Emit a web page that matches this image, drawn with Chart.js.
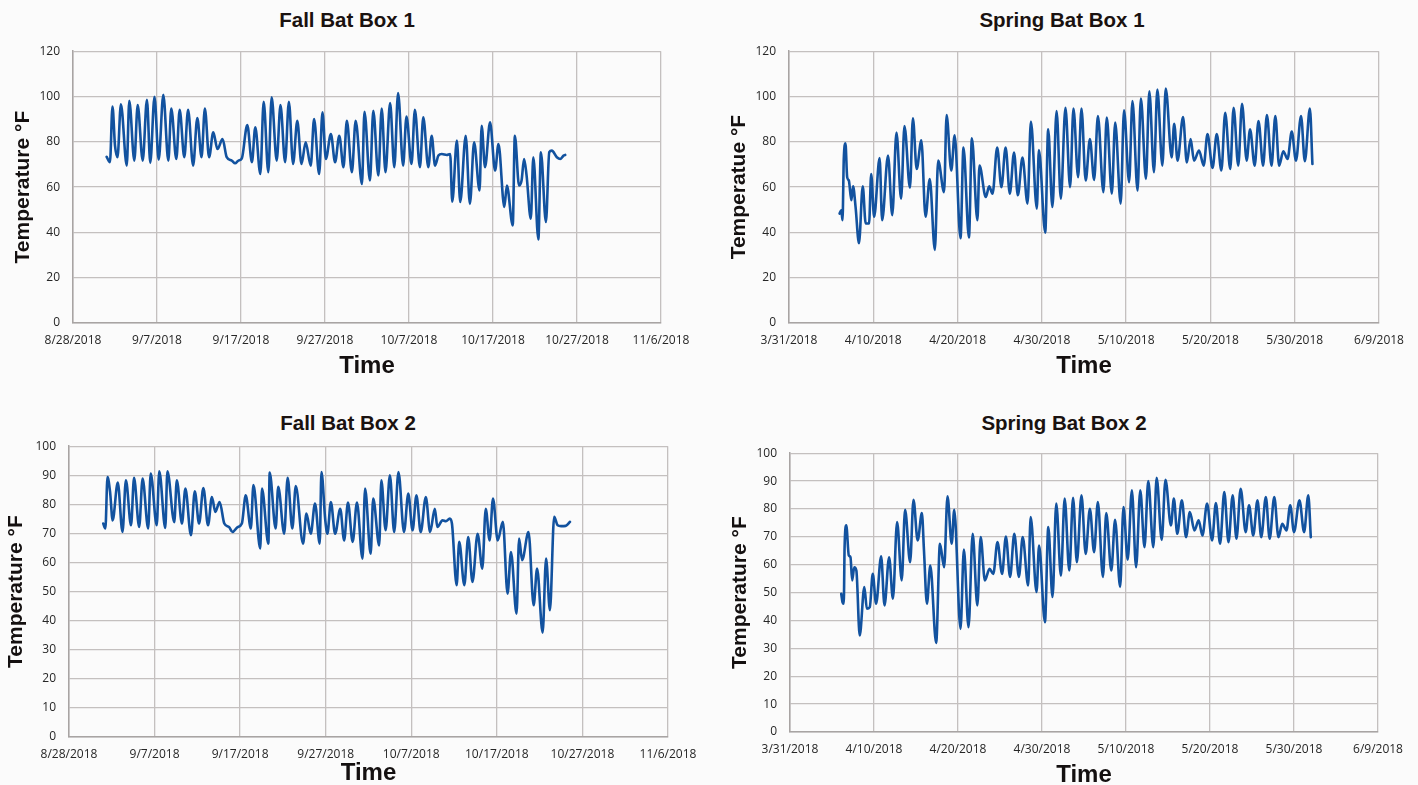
<!DOCTYPE html>
<html>
<head>
<meta charset="utf-8">
<script src="https://cdn.jsdelivr.net/npm/chart.js@4.4.1/dist/chart.umd.min.js"></script>
<style>
  html, body { margin:0; padding:0; }
  body { width:1418px; height:785px; background:#fbfbfb; position:relative; overflow:hidden; }
  canvas { position:absolute; }
  .ttl { position:absolute; transform:translate(-50%,-50%); font:bold 20.5px 'Liberation Sans', Arial, sans-serif; color:#1a1210; white-space:nowrap; line-height:1; }
</style>
</head>
<body>
<script>
// ---------- tick labels (day 0, 10, 20 ... 70) ----------
const fallTicks = ['8/28/2018','9/7/2018','9/17/2018','9/27/2018','10/7/2018','10/17/2018','10/27/2018','11/6/2018'];
const springTicks = ['3/31/2018','4/10/2018','4/20/2018','4/30/2018','5/10/2018','5/20/2018','5/30/2018','6/9/2018'];

// ---------- series: [days after first tick date, temperature °F] ----------
const fallBox1 = [[4.0,73.4],[4.4,71.0],[4.7,95.6],[5.0,78.3],[5.3,73.2],[5.7,96.6],[6.4,69.5],[6.7,98.1],[7.3,71.7],[7.7,96.2],[8.3,71.7],[8.8,98.5],[9.2,70.7],[9.7,99.9],[10.2,72.1],[10.75,100.7],[11.35,71.7],[11.7,94.7],[12.3,72.4],[12.7,94.1],[13.25,73.2],[13.7,94.1],[14.3,69.5],[14.8,90.5],[15.3,73.2],[15.7,94.7],[16.2,73.2],[16.7,84.2],[17.2,76.8],[17.8,81.2],[18.3,73.2],[18.9,71.7],[19.3,70.5],[19.7,71.7],[20.1,72.7],[20.75,87.4],[21.3,71.0],[21.7,86.4],[22.3,65.8],[22.7,97.7],[23.25,66.6],[23.65,99.6],[24.25,71.7],[24.7,96.2],[25.25,71.0],[25.7,97.7],[26.2,70.2],[26.7,89.3],[27.2,70.2],[27.7,79.8],[28.3,69.5],[28.7,90.0],[29.3,65.8],[29.7,93.0],[30.1,72.4],[30.7,83.4],[31.2,71.0],[31.7,82.7],[32.2,68.8],[32.6,89.3],[33.2,66.6],[33.65,89.3],[34.4,61.4],[34.7,93.3],[35.35,62.9],[35.75,93.7],[36.35,65.1],[36.75,94.7],[37.2,66.6],[37.75,97.1],[38.25,68.8],[38.7,101.5],[39.3,69.5],[39.7,91.2],[40.3,70.2],[40.7,94.1],[41.3,68.8],[41.7,90.8],[42.3,68.8],[42.7,82.7],[43.1,69.5],[43.5,73.9],[43.9,74.6],[44.5,74.2],[44.9,74.6],[45.15,53.6],[45.7,80.5],[46.1,53.4],[46.75,82.7],[47.25,52.6],[47.75,79.8],[48.4,58.5],[48.65,87.1],[49.05,68.8],[49.65,88.6],[50.25,67.3],[50.65,79.0],[51.35,51.2],[51.65,60.7],[52.35,43.1],[52.6,82.7],[53.1,60.7],[53.4,62.9],[53.7,72.4],[54.0,65.1],[54.5,46.0],[54.8,73.2],[55.4,36.9],[55.7,75.4],[56.3,44.6],[56.7,75.4],[57.0,76.1],[57.6,73.2],[58.0,72.4],[58.4,73.9],[58.6,74.2]];

const springBox1 = [[6.0,48.3],[6.2,49.8],[6.35,45.4],[6.5,72.4],[6.7,79.3],[6.9,64.4],[7.1,62.9],[7.4,54.2],[7.6,60.3],[7.9,51.2],[8.3,35.2],[8.75,60.3],[9.1,43.9],[9.5,43.9],[9.75,65.8],[10.1,46.9],[10.75,72.8],[11.05,45.4],[11.75,73.9],[12.25,47.6],[12.75,84.1],[13.3,54.9],[13.7,87.0],[14.35,59.7],[14.7,90.4],[15.15,68.0],[15.7,80.7],[16.2,46.9],[16.7,63.6],[17.3,32.3],[17.7,71.7],[18.4,57.8],[18.7,91.8],[19.25,67.3],[19.65,82.9],[20.35,37.4],[20.7,77.5],[21.35,37.8],[21.7,81.6],[22.35,45.4],[22.6,69.5],[23.35,55.6],[23.75,60.3],[24.15,57.1],[24.7,77.5],[25.2,60.0],[25.7,77.5],[26.2,57.1],[26.7,75.3],[27.15,56.4],[27.7,73.1],[28.3,52.7],[28.7,88.9],[29.4,50.5],[29.65,76.4],[30.4,39.9],[30.75,85.5],[31.25,51.2],[31.75,93.6],[32.25,54.9],[32.8,95.0],[33.35,60.0],[33.75,94.7],[34.3,64.4],[34.7,94.7],[35.2,62.9],[35.7,81.2],[36.2,63.2],[36.65,91.4],[37.3,57.8],[37.7,90.7],[38.3,57.1],[38.7,88.5],[39.35,52.7],[39.75,93.9],[40.35,62.2],[40.75,98.0],[41.35,58.5],[41.75,99.1],[42.35,63.6],[42.75,102.3],[43.3,66.6],[43.7,103.1],[44.3,69.5],[44.7,103.5],[45.4,73.1],[45.7,88.0],[46.1,71.7],[46.75,90.9],[47.2,70.9],[47.65,81.2],[48.05,71.7],[48.65,76.1],[49.2,69.5],[49.65,83.4],[50.25,68.5],[50.75,83.4],[51.3,67.3],[51.75,92.8],[52.35,68.0],[52.75,95.0],[53.3,69.5],[53.75,96.8],[54.3,71.7],[54.7,85.5],[55.25,69.5],[55.7,89.2],[56.25,69.5],[56.7,91.8],[57.25,69.5],[57.7,91.4],[58.15,69.5],[58.65,75.8],[59.15,72.4],[59.65,84.5],[60.15,71.7],[60.75,91.4],[61.2,71.4],[61.8,94.7],[62.1,70.2]];

const fallBox2 = [[4.0,73.4],[4.25,71.7],[4.5,89.4],[4.8,84.3],[5.1,74.5],[5.7,87.5],[6.25,70.5],[6.65,88.3],[7.25,72.8],[7.6,89.1],[8.2,72.2],[8.6,88.9],[9.25,71.7],[9.55,90.6],[10.25,72.8],[10.55,91.4],[11.25,71.9],[11.5,91.4],[12.3,73.9],[12.6,88.3],[13.2,73.4],[13.6,85.4],[14.25,69.4],[14.7,84.5],[15.2,73.4],[15.7,85.6],[16.25,72.8],[16.7,82.5],[17.1,77.4],[17.6,80.8],[18.15,73.4],[18.7,72.2],[19.1,70.5],[19.7,72.2],[20.2,73.4],[20.65,83.1],[21.25,71.7],[21.55,86.6],[22.35,64.8],[22.55,85.4],[23.3,66.5],[23.45,90.9],[24.15,71.7],[24.45,86.0],[25.15,69.9],[25.55,89.1],[26.1,71.7],[26.5,86.3],[27.35,66.5],[27.75,76.8],[28.25,69.9],[28.75,80.3],[29.3,66.5],[29.5,91.1],[29.95,74.5],[30.2,69.9],[30.6,80.8],[31.1,69.9],[31.7,78.5],[32.15,67.6],[32.6,80.6],[33.15,67.1],[33.65,80.6],[34.3,61.3],[34.6,85.4],[35.25,63.0],[35.55,82.0],[36.25,65.9],[36.5,88.3],[37.0,71.1],[37.5,90.0],[38.0,70.5],[38.5,91.1],[39.15,70.5],[39.65,83.7],[40.15,71.1],[40.6,83.1],[41.1,70.5],[41.7,82.5],[42.2,70.5],[42.75,78.5],[43.05,72.2],[43.65,74.5],[44.05,74.2],[44.5,75.1],[44.75,73.4],[45.3,52.2],[45.6,67.1],[46.2,52.2],[46.65,68.8],[47.15,53.3],[47.75,69.9],[48.3,57.9],[48.7,78.5],[49.15,67.6],[49.55,82.0],[50.1,67.6],[50.7,74.0],[51.25,49.3],[51.65,63.6],[52.3,42.4],[52.6,68.2],[52.95,60.8],[53.7,70.5],[54.3,45.3],[54.7,57.9],[55.35,35.9],[55.75,61.4],[56.2,43.6],[56.7,75.7],[57.1,72.8],[57.5,72.5],[58.05,72.6],[58.55,74.0]];

const springBox2 = [[6.1,49.6],[6.25,46.6],[6.4,46.0],[6.5,66.3],[6.7,74.1],[7.0,63.3],[7.2,62.7],[7.4,54.4],[7.65,59.1],[7.9,57.9],[8.3,34.6],[8.85,52.0],[9.15,44.2],[9.5,44.8],[9.85,56.7],[10.25,46.0],[10.85,63.0],[11.25,45.4],[11.8,62.7],[12.25,47.8],[12.75,75.3],[13.3,54.4],[13.7,79.7],[14.3,60.9],[14.7,83.3],[15.2,68.7],[15.7,78.5],[15.95,65.1],[16.3,46.0],[16.7,59.7],[17.4,31.9],[17.85,67.5],[18.35,59.1],[18.75,84.5],[19.25,67.5],[19.55,79.7],[20.3,37.0],[20.7,65.4],[21.25,37.6],[21.75,71.1],[22.3,45.4],[22.7,69.9],[23.2,54.4],[23.75,58.5],[24.2,56.7],[24.7,68.1],[25.25,56.7],[25.7,70.1],[26.2,55.6],[26.7,71.1],[27.25,55.6],[27.7,69.9],[28.35,52.6],[28.65,77.1],[29.35,50.2],[29.65,66.9],[30.35,39.4],[30.75,73.5],[31.25,48.4],[31.7,81.9],[32.25,56.1],[32.7,83.7],[33.25,57.9],[33.7,84.0],[34.15,60.9],[34.7,84.9],[35.2,63.9],[35.7,80.1],[36.2,64.5],[36.65,82.5],[37.25,55.6],[37.65,78.5],[38.25,57.9],[38.7,76.1],[39.3,52.0],[39.7,80.7],[40.2,61.8],[40.7,86.7],[41.2,59.1],[41.7,86.7],[42.2,66.3],[42.65,90.0],[43.25,66.3],[43.65,91.2],[44.25,68.9],[44.7,90.5],[45.35,74.1],[45.7,83.7],[46.1,71.1],[46.65,83.1],[47.15,69.9],[47.6,78.9],[48.15,72.3],[48.65,75.9],[49.1,70.5],[49.65,81.9],[50.25,68.7],[50.7,82.1],[51.2,67.5],[51.7,86.1],[52.2,68.1],[52.7,84.9],[53.15,69.3],[53.65,87.2],[54.25,71.7],[54.65,81.3],[55.15,70.5],[55.65,83.1],[56.1,69.9],[56.65,84.3],[57.1,69.3],[57.65,84.3],[58.15,69.9],[58.6,74.7],[59.1,72.3],[59.55,81.3],[60.0,71.7],[60.65,83.1],[61.2,71.7],[61.7,84.9],[62.0,69.9]];

// ---------- panel layout (plot-area edges in page pixels) ----------
const panels = [
  {title:'Fall Bat Box 1',   tx:347,  ty:20,  l:73,  r:661,  t:51,  b:323, x0:0,   yTitle:'Temperature °F', ytx:23,  xty:366.5, yMax:120, yStep:20, data:fallBox1,   ticks:fallTicks},
  {title:'Spring Bat Box 1', tx:1062, ty:20,  l:789, r:1379, t:51,  b:323, x0:705, yTitle:'Temperatue °F',  ytx:739, xty:366.5, yMax:120, yStep:20, data:springBox1, ticks:springTicks},
  {title:'Fall Bat Box 2',   tx:348,  ty:423, l:69,  r:668,  t:446, b:737, x0:0,   yTitle:'Temperature °F', ytx:16,  xty:773,   yMax:100, yStep:10, data:fallBox2,   ticks:fallTicks},
  {title:'Spring Bat Box 2', tx:1064, ty:423, l:790, r:1378, t:453, b:732, x0:705, yTitle:'Temperature °F', ytx:740, xty:775,   yMax:100, yStep:10, data:springBox2, ticks:springTicks}
];

const GRID = '#c4c0bf', AXIS = '#a8a4a3', LINE = '#12529f', TICK = '#262626', TXT = '#141010';
const Y_TITLE_SIZE = 21, X_TITLE_SIZE = 24, PAD_R = 40, PAD_T = 20;

panels.forEach(p => {
  const t = document.createElement('div');
  t.className = 'ttl';
  t.style.left = p.tx + 'px';
  t.style.top = p.ty + 'px';
  t.textContent = p.title;
  document.body.appendChild(t);

  const top = p.t - PAD_T;
  const bottom = Math.round(p.xty + X_TITLE_SIZE * 0.6 + 4);
  const width = p.r + PAD_R - p.x0;
  const height = bottom - top;
  const yw = p.l - p.x0;
  const xh = bottom - p.b;
  const yTitlePad = p.ytx - p.x0 - Y_TITLE_SIZE * 0.6;
  const xTitlePad = bottom - p.xty - X_TITLE_SIZE * 0.6;

  const c = document.createElement('canvas');
  c.width = width; c.height = height;
  c.style.left = p.x0 + 'px'; c.style.top = top + 'px';
  c.style.width = width + 'px'; c.style.height = height + 'px';
  document.body.appendChild(c);

  new Chart(c, {
    type: 'line',
    data: { datasets: [{
      data: p.data.map(d => ({x: d[0], y: d[1]})),
      borderColor: LINE, borderWidth: 2.6, pointRadius: 0,
      cubicInterpolationMode: 'monotone', fill: false,
      borderJoinStyle: 'round', borderCapStyle: 'round'
    }]},
    options: {
      responsive: false, animation: false, devicePixelRatio: 1,
      layout: { padding: { left: 0, right: PAD_R, top: PAD_T, bottom: 0 } },
      plugins: { legend: { display: false }, tooltip: { enabled: false }, title: { display: false } },
      scales: {
        x: {
          type: 'linear', min: 0, max: 70,
          afterFit: s => { s.height = xh; },
          grid: { color: GRID, lineWidth: 1.3, drawTicks: false },
          border: { color: AXIS, width: 1.5 },
          ticks: { stepSize: 10, autoSkip: false, maxRotation: 0, minRotation: 0, padding: 10,
                   color: TICK, font: { family: "'Open Sans'", size: 12 },
                   callback: (v, i) => p.ticks[i] },
          title: { display: true, text: 'Time', color: TXT,
                   font: { family: "'Liberation Sans'", size: X_TITLE_SIZE, weight: 'bold', lineHeight: 1.2 },
                   padding: { top: 0, bottom: xTitlePad } }
        },
        y: {
          min: 0, max: p.yMax,
          afterFit: s => { s.width = yw; },
          grid: { color: GRID, lineWidth: 1.3, drawTicks: false },
          border: { color: AXIS, width: 1.5 },
          ticks: { stepSize: p.yStep, padding: 13, color: TICK, font: { family: "'Open Sans'", size: 12 } },
          title: { display: true, text: p.yTitle, color: TXT,
                   font: { family: "'Liberation Sans'", size: Y_TITLE_SIZE, weight: 'bold', lineHeight: 1.2 },
                   padding: { top: yTitlePad, bottom: 0 } }
        }
      }
    }
  });
});
</script>
</body>
</html>
